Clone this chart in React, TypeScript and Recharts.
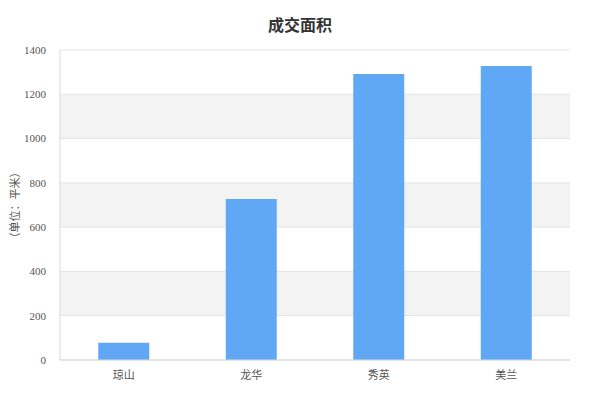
import React from 'react';
import { BarChart, Bar, XAxis, YAxis, CartesianGrid } from 'recharts';

const districts = ['琼山', '龙华', '秀英', '美兰'];
const areaValues = [78, 727, 1292, 1328];
const yTicks = [0, 200, 400, 600, 800, 1000, 1200, 1400];

const chartData = districts.map((name, i) => ({ name, area: areaValues[i] }));

const tickFont = { fill: '#555', fontSize: 11, fontFamily: 'Liberation Serif, DejaVu Serif, Noto Sans CJK SC, serif' };

export default function App() {
  return (
    <div style={{ position: 'relative', width: 600, height: 400, margin: -8, background: '#fff' }}>
      <div
        style={{
          position: 'absolute',
          top: 12,
          left: 0,
          width: 600,
          textAlign: 'center',
          fontSize: 16,
          fontWeight: 'bold',
          color: '#333',
          fontFamily: '"Noto Sans CJK SC", sans-serif',
        }}
      >
        成交面积
      </div>
      <div
        style={{
          position: 'absolute',
          left: 14,
          top: 205,
          transform: 'translate(-50%, -50%) rotate(-90deg)',
          whiteSpace: 'nowrap',
          fontSize: 11,
          color: '#555',
          fontFamily: '"Noto Sans CJK SC", sans-serif',
          zIndex: 1,
        }}
      >
        （单位：平米）
      </div>
      <BarChart
        width={600}
        height={400}
        data={chartData}
        margin={{ top: 50, right: 30, bottom: 0, left: 0 }}
        barCategoryGap="30%"
      >
        <CartesianGrid
          vertical={false}
          stroke="#e3e3e3"
          horizontalFill={['#ffffff', '#f3f3f3']}
        />
        <XAxis
          dataKey="name"
          height={40}
          tickLine={false}
          axisLine={{ stroke: '#d9d9d9' }}
          tick={tickFont}
          tickMargin={5}
        />
        <YAxis
          width={60}
          domain={[0, 1400]}
          ticks={yTicks}
          tickLine={false}
          axisLine={{ stroke: '#d9d9d9' }}
          tick={tickFont}
          tickMargin={8}
        />
        <YAxis
          yAxisId="right"
          orientation="right"
          width={0}
          domain={[0, 1400]}
          tick={false}
          tickLine={false}
          axisLine={{ stroke: '#d9d9d9' }}
        />
        <Bar dataKey="area" fill="#60a8f5" isAnimationActive={false} />
      </BarChart>
    </div>
  );
}
